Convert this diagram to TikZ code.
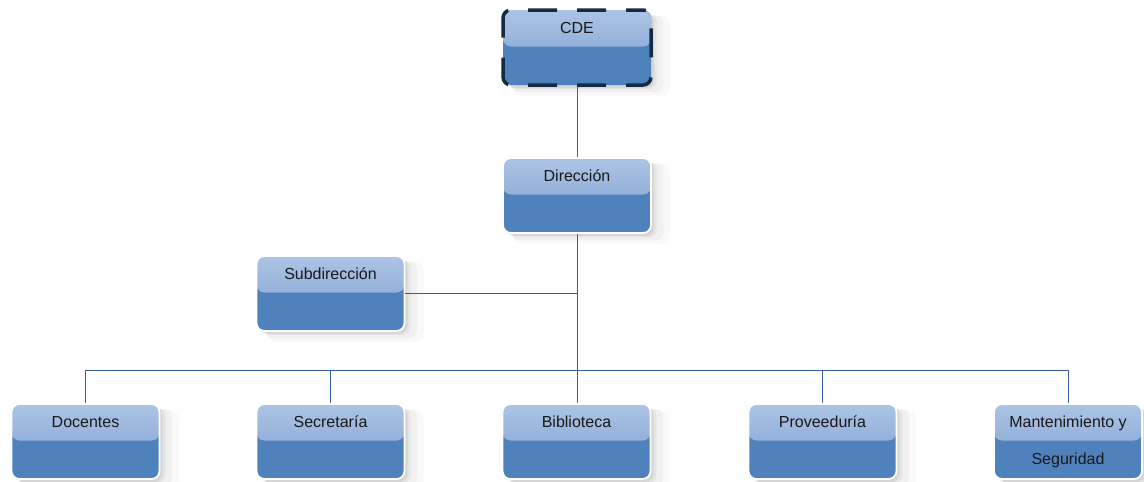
\documentclass[tikz,border=0pt]{standalone}
\usepackage{fontspec}
\setmainfont{Liberation Sans}
\usepackage{tikz}
\usetikzlibrary{shadows}
\definecolor{boxtop}{RGB}{172,196,229}
\definecolor{boxmid}{RGB}{124,156,206}
\definecolor{boxlow}{RGB}{79,129,189}
\definecolor{navy}{RGB}{22,42,70}
\definecolor{wire}{RGB}{52,96,160}
\tikzstyle{soft}=[drop shadow={shadow xshift=14pt, shadow yshift=-8pt, opacity=0.05, shadow scale=1.06},
  drop shadow={shadow xshift=10pt, shadow yshift=-6pt, opacity=0.07, shadow scale=1.03},
  drop shadow={shadow xshift=6pt, shadow yshift=-4pt, opacity=0.1},
  drop shadow={shadow xshift=3pt, shadow yshift=-3pt, opacity=0.15}]
\tikzstyle{cargo}=[rectangle, rounded corners=8pt, minimum width=148pt, minimum height=75pt,
  inner xsep=0pt, inner ysep=11pt, text height=12pt, text depth=41pt,
  font=\fontsize{16}{19}\selectfont, text=black!90,
  fill=boxlow, draw=white, line width=1.8pt, soft,
  path picture={\fill[top color=boxtop, bottom color=boxmid]
    (path picture bounding box.north west) rectangle ([yshift=1pt]path picture bounding box.east);}]
\tikzstyle{consejo}=[cargo, draw=navy, line width=3.5pt, dash pattern=on 29pt off 20pt, dash phase=12pt]
\tikzstyle{wire}=[draw=wire, line width=0.9pt]

\begin{document}
\begin{tikzpicture}[x=1pt, y=-1pt]
    \useasboundingbox (0,0) rectangle (1144,482);
    % top of the chart
    \node[consejo] (cde) at (577,47.5) {CDE};
    \node[cargo] (dir) at (577,195.5) {Dirección};
    \node[cargo] (sub) at (330.5,293.5) {Subdirección};

    % bottom row, using a loop
    \foreach \n/\x/\t in {doc/85.5/Docentes, sec/330.5/Secretaría, bib/576.5/Biblioteca,
                          pro/822.5/Proveeduría}{
      \node[cargo] (\n) at (\x,441.5) {\t};
    }
    \node[cargo] (man) at (1068,441.5)
      {\parbox[t]{148pt}{\centering Mantenimiento y\\[18pt]Seguridad}};

    % connectors
    \coordinate (bus) at (577,370);
    \draw[wire] (cde) -- (dir);
    \draw[wire] (dir) -- (dir |- bib.north);
    \draw[wire] (sub.east) -- (sub.east -| dir);
    \draw[wire] (doc.north |- bus) -- (man.north |- bus);
    \foreach \n in {doc, sec, pro, man}{
      \draw[wire] (\n.north) -- (\n.north |- bus);
    }
\end{tikzpicture}
\end{document}
